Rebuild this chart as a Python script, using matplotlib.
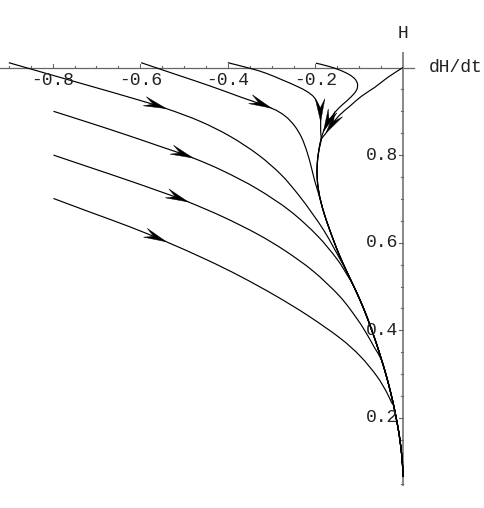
import matplotlib
matplotlib.use('Agg')
import matplotlib.pyplot as plt
import numpy as np
from matplotlib.patches import Polygon, PathPatch
from matplotlib.path import Path

# ---- data (x = dH/dt, y = H) ----
attractor_dhdt = [-0.1872, -0.1927, -0.1959, -0.1959, -0.1929, -0.1874, -0.1790, -0.1689, -0.1580,
                  -0.1454, -0.1290, -0.1128, -0.0982, -0.0840, -0.0715, -0.0596, -0.0489, -0.0406,
                  -0.0331, -0.0274, -0.0221, -0.0160, -0.0105, -0.0064, -0.0034, -0.0011, 0.0]
attractor_h = [0.8345, 0.8071, 0.7774, 0.7477, 0.7203, 0.6929, 0.6632, 0.6336, 0.6039,
               0.5719, 0.5354, 0.5011, 0.4692, 0.4349, 0.4007, 0.3664, 0.3322, 0.3048,
               0.2774, 0.2546, 0.2317, 0.2021, 0.1724, 0.1450, 0.1199, 0.0925, 0.0651]

traj_a_dhdt = [-0.900, -0.806, -0.715, -0.623, -0.540, -0.463, -0.395, -0.331, -0.279, -0.240,
               -0.208, -0.180, -0.160, -0.144]
traj_a_h = [1.011, 0.984, 0.958, 0.9315, 0.906, 0.877, 0.843, 0.801, 0.756, 0.711,
            0.668, 0.627, 0.592, 0.563]

traj_b_dhdt = [-0.598, -0.521, -0.441, -0.372, -0.300, -0.269, -0.247, -0.231, -0.219, -0.210,
               -0.202, -0.194]
traj_b_h = [1.011, 0.985, 0.958, 0.933, 0.907, 0.889, 0.866, 0.839, 0.807, 0.775,
            0.743, 0.716]

traj_c_dhdt = [-0.400, -0.349, -0.313, -0.274, -0.242, -0.219, -0.203, -0.193, -0.189, -0.188, -0.188]
traj_c_h = [1.011, 0.998, 0.987, 0.971, 0.957, 0.945, 0.932, 0.914, 0.896, 0.876, 0.855]

traj_d_dhdt = [-0.199, -0.171, -0.144, -0.123, -0.110, -0.104, -0.105, -0.112, -0.128, -0.146,
               -0.162, -0.174, -0.182]
traj_d_h = [1.010, 1.003, 0.994, 0.984, 0.974, 0.963, 0.951, 0.940, 0.924, 0.908,
            0.889, 0.871, 0.853]

traj_e_dhdt = [0.0, -0.034, -0.064, -0.094, -0.121, -0.144, -0.162, -0.176]
traj_e_h = [1.0, 0.978, 0.955, 0.935, 0.912, 0.892, 0.871, 0.850]

traj_f_dhdt = [-0.798, -0.715, -0.635, -0.555, -0.479, -0.411, -0.333, -0.258, -0.196, -0.151, -0.126]
traj_f_h = [0.900, 0.8735, 0.8473, 0.820, 0.7933, 0.764, 0.723, 0.6726, 0.6164, 0.563, 0.524]

traj_g_dhdt = [-0.798, -0.715, -0.635, -0.555, -0.490, -0.411, -0.333, -0.269, -0.205, -0.144,
               -0.103, -0.080, -0.066]
traj_g_h = [0.800, 0.772, 0.745, 0.717, 0.693, 0.659, 0.620, 0.5815, 0.535, 0.477,
            0.4235, 0.387, 0.362]

traj_h_dhdt = [-0.798, -0.715, -0.623, -0.540, -0.447, -0.372, -0.292, -0.217, -0.144, -0.098,
               -0.060, -0.037, -0.026]
traj_h_h = [0.701, 0.670, 0.636, 0.602, 0.5605, 0.5235, 0.4795, 0.4336, 0.3824, 0.3413,
            0.2957, 0.258, 0.2349]

# index (in each trajectory's own points) where its arrowhead tip sits
trajectories = [
    (traj_a_dhdt, traj_a_h, 4),
    (traj_b_dhdt, traj_b_h, 4),
    (traj_c_dhdt, traj_c_h, 9),
    (traj_d_dhdt, traj_d_h, 12),
    (traj_e_dhdt, traj_e_h, 7),
    (traj_f_dhdt, traj_f_h, 4),
    (traj_g_dhdt, traj_g_h, 4),
    (traj_h_dhdt, traj_h_h, 3),
]

x_major = [-0.8, -0.6, -0.4, -0.2]
x_major_labels = ["-0.8", "-0.6", "-0.4", "-0.2"]
y_major = [0.2, 0.4, 0.6, 0.8]
y_major_labels = ["0.2", "0.4", "0.6", "0.8"]

# ---- figure ----
PX = 438.0  # pixels per data unit (equal aspect)
fig = plt.figure(figsize=(4.85, 5.08), dpi=100)
ax = fig.add_axes([0, 0, 1, 1])
ax.set_xlim(-403 / PX, 82 / PX)
ax.set_ylim(-2.5 / PX, 505.5 / PX)
ax.axis('off')

font = dict(family='Liberation Mono', fontsize=13, color='#222222')
axis_col = '#666666'

# axes lines (crossing at dH/dt = 0, H = 1)
ax.plot([-403 / PX, 11 / PX], [1.0, 1.0], color=axis_col, lw=0.9, zorder=1)
ax.plot([0.0, 0.0], [0.047, 1.034], color='#888888', lw=1.4, zorder=1)

tk_major = 4 / PX
tk_minor = 2 / PX
for i in range(1, 19):
    xv = -0.05 * i
    is_major = any(abs(xv - m) < 1e-6 for m in x_major)
    ln = tk_major if is_major else tk_minor
    ax.plot([xv, xv], [1.0, 1.0 + ln], color=axis_col, lw=0.8, zorder=1)
for i in range(1, 20):
    yv = 0.05 * i
    is_major = any(abs(yv - m) < 1e-6 for m in y_major)
    ln = tk_major if is_major else tk_minor
    ax.plot([0.0, -ln], [yv, yv], color=axis_col, lw=0.8, zorder=1)

for xv, lab in zip(x_major, x_major_labels):
    ax.text(xv, 1.0 - 12.5 / PX, lab, ha='center', va='center', **font)
for yv, lab in zip(y_major, y_major_labels):
    ax.text(-5 / PX, yv, lab, ha='right', va='center', **font)
ax.text(0.0, 1.0 + 34 / PX, "H", ha='center', va='center', **font)
ax.text(26 / PX, 1.0, "dH/dt", ha='left', va='center', **font)


def smooth_path(x, y):
    """Cubic Bezier path passing through every read point (Catmull-Rom tangents)."""
    P = np.column_stack([x, y])
    n = len(P)
    verts = [P[0]]
    codes = [Path.MOVETO]
    for i in range(n - 1):
        p0 = P[i - 1] if i > 0 else P[i]
        p1, p2 = P[i], P[i + 1]
        p3 = P[i + 2] if i + 2 < n else P[i + 1]
        c1 = p1 + (p2 - p0) / 6.0
        c2 = p2 - (p3 - p1) / 6.0
        verts += [c1, c2, p2]
        codes += [Path.CURVE4] * 3
    return Path(np.array(verts), codes)


# trajectories
att_x = np.array(attractor_dhdt)
att_h = np.array(attractor_h)
L, HW, NOTCH = 23 / PX, 4.8 / PX, 14 / PX
for xs, hs, ai in trajectories:
    xs = np.array(xs); hs = np.array(hs)
    mask = att_h < hs[-1] - 1e-4
    px_ = np.concatenate([xs, att_x[mask]])
    ph_ = np.concatenate([hs, att_h[mask]])
    ax.add_patch(PathPatch(smooth_path(px_, ph_), facecolor='none', edgecolor='black',
                           lw=0.85, zorder=2))
    tip = np.array([xs[ai], hs[ai]])
    u = np.array([xs[ai + 1] - xs[ai - 1], hs[ai + 1] - hs[ai - 1]]) if ai + 1 < len(xs) \
        else np.array([xs[ai] - xs[ai - 1], hs[ai] - hs[ai - 1]])
    u = u / np.hypot(*u)
    n = np.array([-u[1], u[0]])
    poly = [tip, tip - L * u + HW * n, tip - NOTCH * u, tip - L * u - HW * n]
    ax.add_patch(Polygon(poly, closed=True, facecolor='black', edgecolor='black', lw=0.3, zorder=3))

fig.savefig('out.png', dpi=100)
